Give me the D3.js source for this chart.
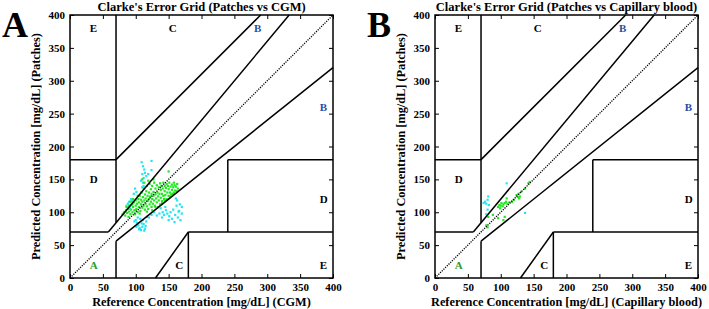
<!DOCTYPE html>
<html>
<head>
<script src="https://cdnjs.cloudflare.com/ajax/libs/d3/7.8.5/d3.min.js"></script>
<style>
  body { margin: 0; background: #fff; }
  text { font-family: "Liberation Serif", "Times New Roman", serif; font-weight: bold; }
</style>
</head>
<body>
<script>
// zone boundaries of the Clarke grid, in mg/dL
var zoneLines = [
  [0, 175/3, 70, 70],
  [175/3, 400/1.2, 70, 400],
  [70, 70, 84, 400],
  [0, 70, 180, 180],
  [70, 290, 180, 400],
  [70, 70, 0, 56],
  [70, 400, 56, 320],
  [180, 180, 0, 70],
  [180, 400, 70, 70],
  [240, 240, 70, 180],
  [240, 400, 180, 180],
  [130, 180, 0, 70]
];
var zoneNames = ["A", "D", "E", "C", "C", "E", "D", "B", "B"];
var zoneX = [30, 30, 30, 150, 160, 380, 380, 380, 280];
var zoneY = [20, 150, 380, 380, 20, 20, 120, 260, 380];
var ticks = [0, 50, 100, 150, 200, 250, 300, 350, 400];

// panel A : Patches vs CGM
var cgmInA = [[80,97],[82,100],[84,95],[85,103],[87,99],[88,106],[90,101],[90,110],[92,97],[93,104],[94,112],[95,100],
  [96,108],[97,115],[98,103],[99,97],[100,110],[100,118],[101,105],[102,113],[103,100],[104,120],[105,108],[105,115],
  [106,125],[107,102],[108,112],[108,119],[109,130],[110,107],[110,116],[111,123],[112,110],[112,136],[113,118],[114,104],
  [114,127],[115,113],[115,121],[116,132],[117,109],[117,140],[118,117],[118,125],[119,105],[120,120],[120,130],[121,112],
  [121,143],[122,124],[123,116],[123,135],[124,108],[124,128],[125,120],[125,140],[126,113],[127,131],[127,125],[128,118],
  [128,145],[129,110],[130,127],[130,136],[131,121],[132,115],[132,141],[133,130],[134,124],[134,108],[135,138],[135,118],
  [136,128],[137,144],[137,112],[138,122],[138,134],[139,140],[140,117],[140,128],[141,136],[142,125],[142,145],[143,120],
  [144,132],[144,140],[145,118],[145,126],[146,137],[147,120],[147,143],[148,130],[149,140],[150,125],[150,135],[151,145],
  [152,124],[152,130],[153,139],[154,127],[155,142],[155,134],[156,128],[157,138],[158,130],[158,145],[159,141],[160,133],
  [161,139],[162,132],[163,143],[164,136],[150,162],[110,150],[113,145],[119,148],[127,150],[96,120],[103,125],[89,93],
  [86,108],[92,116],[100,103],[106,98],[117,101],[125,103],[130,108],[140,114],[144,118]];
var cgmOut = [[108,130],[110,138],[111,145],[112,152],[110,158],[113,165],[111,170],[109,176],[114,160],[112,140],
  [108,148],[124,178],[116,155],[119,158],[99,136],[101,131],[97,128],
  [88,113],[90,116],[92,110],[94,117],[91,106],[95,112],[86,110],[89,105],[93,120],
  [100,88],[102,84],[104,80],[106,76],[108,73],[110,78],[112,82],[114,75],[116,86],[103,92],[107,90],[111,88],[115,79],
  [109,83],[113,72],[117,93],[105,74],[101,78],[98,86],
  [138,106],[141,100],[143,96],[146,103],[148,98],[151,94],[153,100],[155,90],[157,104],[160,96],[162,110],[164,92],
  [166,102],[168,88],[170,98],[159,85],[150,88],[145,108],[136,98],[167,112],[163,118],[161,121],[140,92],[132,95],
  [128,100],[124,96],[120,92],[124,164],[170,108],[165,101]];

// panel B : Patches vs Capillary blood
var capInA = [[78,80],[80,77],[81,93],[88,96],[96,91],[96,108],[98,111],[99,106],[101,114],[103,109],[104,112],[106,114],
  [108,116],[109,121],[106,93],[104,88],[110,113],[113,115],[117,116],[120,119],[124,126],[126,123],[127,128],[129,124],
  [128,121],[131,131],[137,136],[142,144],[144,146],[100,110]];
var capOut = [[109,144],[81,124],[80,119],[76,116],[78,113],[82,111],[74,114],[80,104],[78,97],[137,99]];

var W = 709, H = 309;
var svg = d3.select("body").append("svg").attr("width", W).attr("height", H);

function drawPanel(ox, letter, title, xlab, inA, out) {
  var pw = 263, ph = 263, oy = 15;
  var x = d3.scaleLinear().domain([0, 400]).range([0, pw]);
  var y = d3.scaleLinear().domain([0, 400]).range([ph, 0]);
  var g = svg.append("g").attr("transform", "translate(" + ox + "," + oy + ")");

  // points first so lines sit on top
  g.selectAll(".po").data(out).enter().append("rect")
    .attr("x", d => x(d[0]) - 1.1).attr("y", d => y(d[1]) - 1.1)
    .attr("width", 2.2).attr("height", 2.2).attr("fill", "#22e4f4");
  g.selectAll(".pa").data(inA).enter().append("rect")
    .attr("x", d => x(d[0]) - 1.1).attr("y", d => y(d[1]) - 1.1)
    .attr("width", 2.2).attr("height", 2.2).attr("fill", "#1ee81e");

  g.append("line").attr("x1", x(0)).attr("y1", y(0)).attr("x2", x(400)).attr("y2", y(400))
    .attr("stroke", "#000").attr("stroke-width", 1.3).attr("stroke-dasharray", "1.2,1.2");

  g.selectAll(".zl").data(zoneLines).enter().append("line")
    .attr("x1", d => x(d[0])).attr("x2", d => x(d[1]))
    .attr("y1", d => y(d[2])).attr("y2", d => y(d[3]))
    .attr("stroke", "#000").attr("stroke-width", 1.5);

  g.selectAll(".zt").data(zoneNames).enter().append("text")
    .attr("x", (d, i) => x(zoneX[i])).attr("y", (d, i) => y(zoneY[i]))
    .attr("dy", "0.35em").attr("font-size", 11)
    .attr("fill", d => d == "A" ? "#2e9a2e" : d == "B" ? "#1f4fa8" : "#000")
    .text(d => d);

  var xb = d3.axisBottom(x).tickValues(ticks).tickSizeInner(-4).tickSizeOuter(0).tickPadding(5);
  var yl = d3.axisLeft(y).tickValues(ticks).tickSizeInner(-4).tickSizeOuter(0).tickPadding(5);
  var xt = d3.axisTop(x).tickValues(ticks).tickSizeInner(-4).tickSizeOuter(0).tickFormat("");
  var yr = d3.axisRight(y).tickValues(ticks).tickSizeInner(-4).tickSizeOuter(0).tickFormat("");
  var axes = [
    g.append("g").attr("transform", "translate(0," + ph + ")").call(xb),
    g.append("g").call(yl),
    g.append("g").call(xt),
    g.append("g").attr("transform", "translate(" + pw + ",0)").call(yr)
  ];
  axes.forEach(function(a) {
    a.select(".domain").remove();
    a.selectAll("line").attr("stroke", "#000");
    a.selectAll("text").attr("font-size", 11).attr("font-family", "Liberation Serif").attr("font-weight", "bold").attr("fill", "#000");
  });

  g.append("rect").attr("width", pw).attr("height", ph)
    .attr("fill", "none").attr("stroke", "#000").attr("stroke-width", 1.5);

  g.append("text").attr("x", pw / 2).attr("y", -4).attr("text-anchor", "middle")
    .attr("font-size", 12.5).text(title);
  g.append("text").attr("x", pw / 2).attr("y", ph + 28).attr("text-anchor", "middle")
    .attr("font-size", 12.3).text(xlab);
  g.append("text").attr("transform", "translate(-30," + (ph / 2) + ") rotate(-90)")
    .attr("text-anchor", "middle").attr("font-size", 12.3)
    .text("Predicted Concentration [mg/dL] (Patches)");
  g.append("text").attr("x", -68).attr("y", 22).attr("font-size", 36).text(letter);
}

drawPanel(70, "A", "Clarke's Error Grid (Patches vs CGM)", "Reference Concentration [mg/dL] (CGM)", cgmInA, cgmOut);
drawPanel(435, "B", "Clarke's Error Grid (Patches vs Capillary blood)", "Reference Concentration [mg/dL] (Capillary blood)", capInA, capOut);
</script>
</body>
</html>
